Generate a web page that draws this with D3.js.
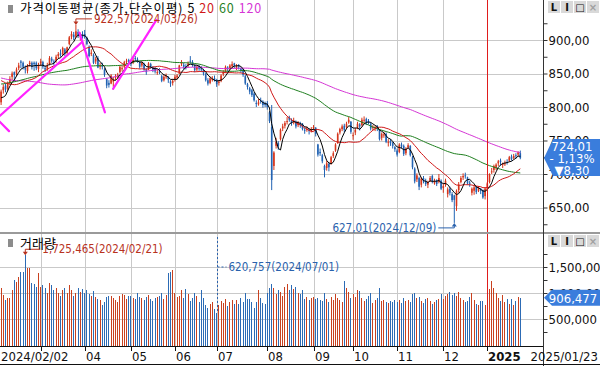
<!DOCTYPE html>
<html>
<head>
<meta charset="utf-8">
<script src="https://cdn.jsdelivr.net/npm/d3@7"></script>
<style>
html, body { margin: 0; padding: 0; background: #fff; overflow: hidden; }
svg { display: block; }
</style>
</head>
<body>
<div id="chart"></div>
<script>
// trading calendar (KRX)
const firstDay = "2024-02-02"
const lastDay = "2025-01-23"
const holidays = ["2024-02-09", "2024-02-12", "2024-03-01", "2024-04-10", "2024-05-01", "2024-05-06",
    "2024-05-15", "2024-06-06", "2024-08-15", "2024-09-16", "2024-09-17", "2024-09-18", "2024-10-01",
    "2024-10-03", "2024-10-09", "2024-12-25", "2024-12-31", "2025-01-01"]

// closes before the first visible day, only used to warm up the moving averages
const priorCloses = [915, 920, 918,
    910, 905, 898, 885, 880, 876, 870, 878, 885, 900, 905, 910, 915, 920, 925,
    930, 934, 925, 915, 905, 900, 895, 898, 900, 892, 880, 870, 862, 855, 850, 845, 842, 835, 826,
    815, 810, 800, 790, 800, 805, 810, 806, 800, 790, 785, 775, 770, 765, 760, 745, 750, 760, 770,
    785, 839, 815, 815, 808, 800, 795, 800, 810, 815, 818, 812, 808, 810, 805, 808, 812, 815, 820, 815, 812, 810,
    812, 815, 818, 822, 828, 833, 840, 848, 850, 855, 858, 862, 860, 862, 865, 860, 863, 866, 866,
    878, 868, 866, 862, 860, 858, 855, 860, 858, 850, 843, 840, 835, 830, 840, 848, 845, 835, 825, 815, 799, 807]

const opens = [
    807, 825, 832, 827, 836, 845, 852, 850, 858, 868, 866, 858, 854, 864, 866, 866, 866, 857, // 02
    865, 867, 858, 857, 864, 872, 868, 869, 876, 880, 879, 886, 881, 894, 905, 908, 905, 912, 905, 908, // 03
    909, 903, 890, 879, 878, 868, 873, 860, 863, 856, 842, 836, 835, 838, 844, 847, 852, 857, 860, 868, 870, // 04
    866, 866, 873, 871, 867, 862, 864, 855, 856, 864, 859, 857, 851, 853, 846, 840, 846, 845, 838, 836, // 05
    841, 844, 850, 864, 863, 861, 862, 869, 867, 862, 856, 861, 858, 855, 849, 840, 836, 842, 843, // 06
    840, 836, 839, 849, 853, 859, 858, 861, 865, 858, 862, 858, 856, 846, 834, 828, 825, 820, 806, 804, 810, 808, 805, // 07
    806, 792, 770, 712, 742, 746, 752, 768, 772, 778, 784, 780, 777, 778, 773, 775, 775, 766, 767, 766, 764, // 08
    768, 769, 744, 733, 728, 712, 709, 715, 716, 727, 735, 746, 762, 767, 772, 770, 777, 778, // 09
    757, 762, 769, 774, 773, 780, 782, 779, 775, 770, 769, 771, 766, 754, 758, 760, 747, 749, 746, 740, // 10
    735, 733, 744, 742, 731, 740, 742, 725, 708, 692, 694, 684, 694, 690, 684, 690, 697, 686, 691, 688, 690, // 11
    679, 684, 670, 678, 670, 668, 652, 676, 688, 695, 698, 695, 687, 672, 675, 681, 675, 678, 676, 667, // 12
    678, 688, 703, 706, 709, 716, 720, 714, 716, 718, 720, 726, 724, 728, 729, 731] // 01

const highs = [
    826, 834, 835, 838, 846, 853, 853, 859, 866, 870, 868, 862, 864, 869, 868, 868, 868, 866,
    872, 869, 862, 866, 876, 875, 871, 878, 882, 886, 890, 888, 890, 906, 913, 912, 922.57, 916, 911, 913,
    915, 905, 892, 886, 880, 875, 876, 866, 866, 858, 843, 840, 849, 845, 849, 851, 862, 862, 869, 872, 872,
    870, 873, 876, 874, 869, 868, 866, 858, 867, 866, 861, 860, 856, 858, 848, 848, 850, 846, 840, 842,
    848, 849, 863, 870, 866, 864, 868, 876, 870, 864, 862, 863, 861, 857, 851, 843, 845, 846, 847,
    842, 840, 849, 855, 862, 861, 864, 868, 866, 864, 864, 859, 857, 848, 836, 830, 827, 822, 810, 812, 814, 810, 808,
    809, 794, 803, 734, 754, 749, 768, 775, 779, 785, 787, 783, 784, 780, 779, 778, 776, 769, 771, 768, 770,
    773, 770, 745, 738, 730, 714, 720, 718, 727, 734, 746, 762, 769, 774, 775, 778, 785, 779,
    762, 769, 778, 776, 784, 786, 784, 782, 777, 773, 772, 773, 767, 762, 763, 762, 752, 752, 748, 742,
    738, 746, 747, 744, 740, 746, 743, 727, 710, 701, 696, 695, 697, 693, 690, 697, 699, 693, 692, 700, 692,
    686, 693, 680, 681, 673, 669, 677, 688, 697, 701, 702, 696, 690, 680, 683, 682, 682, 679, 677, 680,
    688, 701, 709, 714, 716, 721, 723, 717, 720, 722, 727, 729, 730, 731, 734, 735]

const lows = [
    803, 820, 822, 824, 833, 840, 838, 846, 855, 858, 856, 850, 850, 860, 856, 854, 855, 852,
    861, 857, 852, 854, 862, 866, 862, 866, 872, 875, 876, 876, 878, 892, 901, 900, 903, 903, 899, 902,
    902, 892, 874, 876, 864, 864, 858, 856, 856, 845, 828, 829, 834, 830, 840, 842, 850, 853, 858, 864, 865,
    861, 864, 869, 866, 857, 859, 854, 848, 855, 857, 852, 850, 848, 849, 837, 838, 842, 836, 830, 832,
    838, 841, 849, 861, 856, 856, 859, 865, 860, 852, 853, 854, 852, 847, 838, 832, 834, 838, 838,
    830, 832, 837, 846, 851, 853, 855, 858, 858, 855, 856, 851, 845, 833, 826, 819, 815, 808, 800, 802, 805, 799, 800,
    796, 776, 676, 706, 738, 736, 750, 764, 768, 774, 778, 772, 774, 768, 770, 769, 765, 760, 763, 759, 762,
    765, 756, 726, 727, 716, 695, 705, 704, 714, 724, 733, 745, 759, 764, 762, 767, 775, 760,
    751, 758, 767, 765, 771, 775, 773, 774, 765, 765, 764, 764, 750, 750, 754, 746, 741, 742, 738, 733,
    726, 731, 738, 727, 728, 737, 726, 707, 686, 688, 676, 680, 686, 682, 679, 688, 686, 684, 682, 686, 676,
    672, 681, 665, 668, 658, 627.01, 645, 672, 686, 691, 693, 684, 681, 668, 669, 670, 673, 670, 663, 662,
    674, 686, 700, 702, 706, 712, 713, 709, 712, 714, 718, 720, 722, 723, 726, 722]

const closes = [
    823, 830, 826, 835, 842, 850, 848, 856, 862, 866, 860, 856, 862, 866, 860, 864, 858, 862,
    868, 860, 856, 862, 873, 869, 866, 875, 879, 878, 888, 880, 889, 904, 909, 904, 913, 906, 907, 905,
    904, 894, 876, 881, 866, 872, 859, 862, 860, 848, 832, 833, 847, 841, 846, 848, 860, 858, 867, 869, 868,
    865, 870, 872, 868, 860, 866, 856, 852, 865, 860, 856, 853, 852, 852, 839, 845, 846, 841, 835, 839,
    845, 847, 862, 866, 860, 860, 865, 868, 864, 855, 860, 857, 856, 850, 840, 835, 843, 842, 840,
    834, 838, 847, 852, 860, 858, 862, 864, 862, 861, 860, 855, 848, 835, 830, 823, 818, 810, 805, 807, 808, 803, 803,
    800, 779, 691, 732, 748, 742, 766, 771, 776, 779, 781, 776, 780, 771, 776, 774, 767, 765, 767, 764, 767,
    770, 760, 729, 731, 719, 706, 716, 710, 725, 731, 744, 760, 767, 771, 766, 775, 781, 763,
    758, 766, 775, 771, 781, 781, 777, 778, 768, 770, 770, 767, 752, 760, 759, 748, 748, 746, 742, 737,
    729, 744, 741, 730, 738, 743, 728, 710, 689, 698, 681, 693, 689, 685, 688, 694, 689, 690, 685, 694, 678,
    682, 690, 677, 672, 661, 661.33, 675, 684, 694, 697, 697, 686, 686, 678, 680, 673, 680, 675, 665, 678.19,
    686, 700, 704, 712, 714, 719, 718, 715, 716, 717, 725, 722, 727, 727, 732.31, 724.01]

// volume, in thousand
const volumes = [
    1100, 960, 870, 900, 900, 1050, 1250, 1220, 1300, 1400, 1400, 1725.465, 1480, 1480, 1200, 1180, 1120, 1380,
    1120, 1150, 1100, 1000, 1200, 1150, 1050, 1100, 1000, 950, 1050, 1100, 1000, 1150, 1050, 950, 1000, 1100, 1020, 1080,
    1000, 1060, 980, 950, 1040, 930, 880, 860, 760, 830, 920, 950, 940, 900, 860, 830, 950, 980, 960, 890, 940,
    950, 900, 880, 1000, 920, 900, 870, 930, 960, 880, 850, 900, 920, 950, 1000, 880, 960, 1380, 1400, 1440,
    1000, 920, 940, 1050, 900, 1080, 980, 850, 900, 1000, 950, 820, 1050, 900, 760, 720, 780, 820, 700,
    620.757, 760, 850, 800, 880, 750, 820, 860, 780, 860, 790, 900, 820, 1000, 880, 880, 830, 720, 820, 1050, 900, 800, 780,
    1000, 1100, 1180, 1100, 980, 1050, 1020, 950, 1120, 1180, 1050, 1150, 1080, 1120, 1000, 990, 1050, 880, 920, 870, 900,
    920, 880, 900, 860, 850, 1000, 880, 820, 930, 870, 990, 900, 870, 820, 1230, 1100, 1020, 900,
    980, 920, 1060, 1040, 900, 850, 880, 950, 1000, 800, 870, 900, 1100, 840, 870, 820, 800, 850, 820, 860,
    830, 860, 800, 900, 850, 870, 820, 980, 1000, 900, 920, 840, 800, 880, 910, 850, 780, 820, 860, 880, 980,
    880, 940, 980, 1010, 960, 1000, 940, 1010, 900, 870, 830, 840, 920, 1000, 860, 780, 760, 840, 850, 760,
    780, 1070, 1230, 1100, 1000, 900, 850, 960, 820, 880, 780, 880, 760, 850, 920, 906.477]

const maPeriods = [5, 20, 60, 120]
const maColors = ["#000000", "#d01818", "#1f7f1f", "#d535d5"]
const xTickLabels = ["", "04", "05", "06", "07", "08", "09", "10", "11", "12", "2025"]
const priceTicks = [650, 700, 750, 800, 850, 900]
const volumeTicks = [500000, 1000000, 1500000]

// user drawn trend lines, [index, price] pairs
const trendLines = [
    [[-1.8, 782], [3.6, 764]],
    [[-0.5, 787], [36.8, 897]],
    [[35.6, 911], [47.2, 792]],
    [[50.9, 827], [70.6, 930]]
]

const W = 600, H = 366
const plotRight = 543
const priceBottom = 232, volTop = 235, volBottom = 346
const NARROW = "'Liberation Sans Narrow', 'DejaVu Sans Condensed', 'Arial Narrow', sans-serif"
const KR = "'Noto Sans CJK KR', 'Noto Sans', sans-serif"
const UP = "#d6361c", DOWN = "#2263b3"

const parse = d3.utcParse("%Y-%m-%d"), fmtDay = d3.utcFormat("%Y-%m-%d")
const days = d3.utcDay.range(parse(firstDay), d3.utcDay.offset(parse(lastDay), 1))
    .filter(d => d.getUTCDay() % 6 !== 0 && !holidays.includes(fmtDay(d)))
const n = days.length
if ([opens, highs, lows, closes, volumes].some(a => a.length !== n)) {
    throw new Error("length mismatch " + n + " " + [opens, highs, lows, closes, volumes].map(a => a.length))
}

const all = priorCloses.concat(closes)
const movingAvg = p => closes.map((c, i) => {
    const j = i + priorCloses.length
    return j - p + 1 < 0 ? null : d3.mean(all.slice(j - p + 1, j + 1))
})

const kr = d3.formatLocale({decimal: ",", thousands: ".", grouping: [3], currency: ["", ""]})
const fmtPrice = kr.format(".2f")
const fmtVol = d3.format(",")
const fmtDate = d3.utcFormat("%Y/%m/%d")

const x = d3.scaleBand().domain(d3.range(n)).range([0, n * 2.2])
const cx = i => x(i) + x.bandwidth() / 2
const xi = d3.scaleLinear().domain([0, n - 1]).range([cx(0), cx(n - 1)])
const y = d3.scaleLinear().domain([650, 900]).range([207.5, 40])
const yv = d3.scaleLinear().domain([0, 1500000]).range([345, 267])

const svg = d3.select("#chart").append("svg")
    .attr("width", W).attr("height", H)
    .attr("viewBox", [0, 0, W, H])
    .style("font-family", NARROW)

const defs = svg.append("defs")
defs.append("clipPath").attr("id", "clipPrice")
    .append("rect").attr("x", 0).attr("y", 0).attr("width", plotRight).attr("height", priceBottom)
defs.append("clipPath").attr("id", "clipVol")
    .append("rect").attr("x", 0).attr("y", volTop).attr("width", plotRight).attr("height", volBottom - volTop)

const monthStarts = d3.range(1, n).filter(i => days[i].getUTCMonth() !== days[i - 1].getUTCMonth())
const yearStart = monthStarts.find(i => days[i].getUTCFullYear() !== days[0].getUTCFullYear())

// grid
const grid = svg.append("g").attr("stroke", "#c9c9c9").attr("shape-rendering", "crispEdges")
grid.selectAll(".hp").data(priceTicks).join("line")
    .attr("x1", 0).attr("x2", plotRight).attr("y1", d => Math.round(y(d)) + 0.5).attr("y2", d => Math.round(y(d)) + 0.5)
grid.selectAll(".hv").data(volumeTicks).join("line")
    .attr("x1", 0).attr("x2", plotRight).attr("y1", d => Math.round(yv(d)) + 0.5).attr("y2", d => Math.round(yv(d)) + 0.5)
grid.selectAll(".vp").data(monthStarts.filter(i => i !== yearStart)).join("line")
    .attr("x1", i => Math.round(cx(i)) + 0.5).attr("x2", i => Math.round(cx(i)) + 0.5)
    .attr("y1", 0).attr("y2", volBottom)

// candles
const upDown = i => closes[i] >= opens[i] ? UP : DOWN
const candles = svg.append("g").attr("clip-path", "url(#clipPrice)")
    .selectAll("g").data(d3.range(n)).join("g")
candles.append("line")
    .attr("x1", cx).attr("x2", cx)
    .attr("y1", i => y(highs[i])).attr("y2", i => y(lows[i]))
    .attr("stroke", upDown).attr("stroke-width", 1)
candles.append("rect")
    .attr("x", i => cx(i) - 0.8).attr("width", 1.6)
    .attr("y", i => y(Math.max(opens[i], closes[i])))
    .attr("height", i => Math.max(1, Math.abs(y(opens[i]) - y(closes[i]))))
    .attr("fill", upDown)

// moving averages
const maLine = d3.line().defined(d => d[1] != null).x(d => cx(d[0])).y(d => y(d[1]))
svg.append("g").attr("clip-path", "url(#clipPrice)").attr("fill", "none").attr("stroke-width", 1)
    .selectAll("path").data(maPeriods.map((p, k) => ({p, k, v: movingAvg(p)})).reverse()).join("path")
    .attr("stroke", d => maColors[d.k])
    .attr("d", d => maLine(d.v.map((v, i) => [i, v])))

// trend lines
svg.append("g").attr("clip-path", "url(#clipPrice)")
    .selectAll("line").data(trendLines).join("line")
    .attr("x1", d => xi(d[0][0])).attr("y1", d => y(d[0][1]))
    .attr("x2", d => xi(d[1][0])).attr("y2", d => y(d[1][1]))
    .attr("stroke", "#ff22ff").attr("stroke-width", 2.2).attr("stroke-linecap", "round")

// volume bars
svg.append("g").attr("clip-path", "url(#clipVol)").attr("shape-rendering", "crispEdges")
    .selectAll("rect").data(d3.range(n)).join("rect")
    .attr("x", i => Math.floor(cx(i))).attr("width", 1)
    .attr("y", i => yv(volumes[i] * 1000)).attr("height", i => yv(0) - yv(volumes[i] * 1000) + 1)
    .attr("fill", i => closes[i] >= opens[i] ? "#c9411f" : "#2c6bb5")

// year marker
svg.append("line")
    .attr("x1", Math.round(cx(yearStart)) + 0.5).attr("x2", Math.round(cx(yearStart)) + 0.5)
    .attr("y1", 0).attr("y2", volBottom)
    .attr("stroke", "#e01c1c").attr("shape-rendering", "crispEdges")

// pane separator
svg.append("rect").attr("x", 0).attr("y", priceBottom).attr("width", W).attr("height", 2).attr("fill", "#9a9a9a")

// high / low annotations
const ANN = 11.5
const iMax = d3.maxIndex(highs), iMin = d3.minIndex(lows)
const annMax = svg.append("g").attr("stroke", "#b8321e").attr("fill", "#b8321e")
const yMax = y(highs[iMax])
annMax.append("path").attr("fill", "none")
    .attr("d", `M${cx(iMax)},${yMax - 3}V${yMax - 6}H${cx(iMax) + 16}`)
annMax.append("path").attr("stroke", "none")
    .attr("d", `M${cx(iMax) - 2.5},${yMax - 3.5}L${cx(iMax) + 2.5},${yMax - 3.5}L${cx(iMax)},${yMax}Z`)
annMax.append("text").attr("stroke", "none")
    .attr("x", cx(iMax) + 18).attr("y", yMax - 6).attr("dy", "0.36em")
    .attr("font-size", ANN)
    .text(`${fmtPrice(highs[iMax])}(${fmtDate(days[iMax])})`)

const annMin = svg.append("g").attr("stroke", "#2a62ad").attr("fill", "#2a62ad")
const yMin = y(lows[iMin])
annMin.append("path").attr("fill", "none")
    .attr("d", `M${cx(iMin)},${yMin + 3}V${yMin + 5}H${cx(iMin) - 16}`)
annMin.append("path").attr("stroke", "none")
    .attr("d", `M${cx(iMin) - 2.5},${yMin + 3.5}L${cx(iMin) + 2.5},${yMin + 3.5}L${cx(iMin)},${yMin}Z`)
annMin.append("text").attr("stroke", "none")
    .attr("x", cx(iMin) - 18).attr("y", yMin + 5).attr("dy", "0.36em")
    .attr("text-anchor", "end").attr("font-size", ANN)
    .text(`${fmtPrice(lows[iMin])}(${fmtDate(days[iMin])})`)

const vMax = d3.maxIndex(volumes), vMin = d3.minIndex(volumes)
const annVMax = svg.append("g").attr("stroke", "#b8321e").attr("fill", "#b8321e")
const yVMax = yv(volumes[vMax] * 1000)
annVMax.append("path").attr("fill", "none")
    .attr("d", `M${cx(vMax)},${yVMax - 3}V${yVMax - 6}H${cx(vMax) + 15}`)
annVMax.append("path").attr("stroke", "none")
    .attr("d", `M${cx(vMax) - 2.5},${yVMax - 3.5}L${cx(vMax) + 2.5},${yVMax - 3.5}L${cx(vMax)},${yVMax}Z`)
annVMax.append("text").attr("stroke", "none")
    .attr("x", cx(vMax) + 17).attr("y", yVMax - 6).attr("dy", "0.36em").attr("font-size", ANN)
    .text(`${fmtVol(Math.round(volumes[vMax] * 1000))}(${fmtDate(days[vMax])})`)

const annVMin = svg.append("g").attr("stroke", "#2a62ad").attr("fill", "#2a62ad")
const xVMin = Math.round(cx(vMin)) + 0.5
annVMin.append("line").attr("x1", xVMin).attr("x2", xVMin)
    .attr("y1", volTop + 2).attr("y2", yv(volumes[vMin] * 1000))
    .attr("stroke-dasharray", "2,2")
annVMin.append("line").attr("x1", xVMin).attr("x2", xVMin + 9)
    .attr("y1", yv(1500000)).attr("y2", yv(1500000)).attr("stroke-dasharray", "2,2")
annVMin.append("text").attr("stroke", "none")
    .attr("x", xVMin + 11).attr("y", yv(1500000)).attr("dy", "0.36em").attr("font-size", ANN)
    .text(`${fmtVol(Math.round(volumes[vMin] * 1000))}(${fmtDate(days[vMin])})`)

// legends
const leg = svg.append("text").attr("x", 20).attr("y", 13).attr("font-family", KR).attr("font-size", 12.5)
    .attr("letter-spacing", 0.9)
leg.append("tspan").attr("fill", "#000").text("가격이동평균(종가,단순이평)")
maPeriods.forEach((p, k) => leg.append("tspan").attr("fill", maColors[k]).attr("dx", 4).text(p))
svg.append("rect").attr("x", 8).attr("y", 5).attr("width", 5).attr("height", 8).attr("fill", "#8c8c8c")

svg.append("text").attr("x", 20).attr("y", 248).attr("font-family", KR).attr("font-size", 13)
    .text("거래량")
svg.append("rect").attr("x", 8).attr("y", 239).attr("width", 5).attr("height", 8).attr("fill", "#8c8c8c")

// right axes
const axisG = svg.append("g").attr("transform", `translate(${plotRight + 0.5},0)`)
axisG.append("line").attr("y1", 0).attr("y2", H).attr("stroke", "#333")
axisG.append("g")
    .call(d3.axisRight(y).tickValues(priceTicks).tickSize(4).tickPadding(1).tickFormat(fmtPrice))
axisG.append("g")
    .call(d3.axisRight(y).tickValues([625, 675, 725, 775, 825, 875, 925]).tickSize(4).tickFormat(""))
axisG.append("g")
    .call(d3.axisRight(yv).tickValues(volumeTicks).tickSize(4).tickPadding(1).tickFormat(fmtVol))
axisG.append("g")
    .call(d3.axisRight(yv).tickValues([250000, 750000, 1250000, 1750000]).tickSize(4).tickFormat(""))
axisG.selectAll(".domain").remove()
axisG.selectAll(".tick line").attr("stroke", "#333")
axisG.selectAll(".tick text").attr("font-family", NARROW).attr("font-size", 13).attr("fill", "#111")

// last price tag
const last = n - 1
const change = closes[last] - closes[last - 1]
const yLast = y(closes[last])
const tag = svg.append("g")
tag.append("path").attr("fill", "#3a7ddc")
    .attr("d", `M${plotRight + 1},${yLast}L${plotRight + 10},${yLast - 19}H${W}V${yLast + 18}H${plotRight + 10}Z`)
tag.selectAll("text").data([
    fmtPrice(closes[last]),
    (change < 0 ? "- " : "+ ") + kr.format(".2f")(Math.abs(change / closes[last - 1] * 100)) + "%",
    (change < 0 ? "▼" : "▲") + fmtPrice(Math.abs(change))
]).join("text")
    .attr("x", 572).attr("y", (d, k) => yLast - 12 + k * 12).attr("dy", "0.36em")
    .attr("text-anchor", "middle").attr("fill", "#fff").attr("font-size", 13)
    .text(d => d)

const yVLast = yv(volumes[last] * 1000)
const vtag = svg.append("g")
vtag.append("path").attr("fill", "#3a7ddc")
    .attr("d", `M${plotRight + 1},${yVLast}L${plotRight + 9},${yVLast - 8}H${W}V${yVLast + 8}H${plotRight + 9}Z`)
vtag.append("text").attr("x", 573).attr("y", yVLast).attr("dy", "0.36em")
    .attr("text-anchor", "middle").attr("fill", "#fff").attr("font-size", 13)
    .text(fmtVol(Math.round(volumes[last] * 1000)))

// pane buttons
const buttons = ["L", "I", "□", "×"]
;[1, volTop].forEach(top => {
    const b = svg.append("g").selectAll("g").data(buttons).join("g")
        .attr("transform", (d, k) => `translate(${548 + k * 13},${top})`)
    b.append("rect").attr("width", 12).attr("height", 12).attr("fill", "#d9d9d9")
    b.append("text").attr("x", 6).attr("y", 6).attr("dy", "0.36em").attr("text-anchor", "middle")
        .attr("font-family", "'DejaVu Sans', sans-serif").attr("font-weight", "bold").attr("font-size", 10)
        .attr("fill", (d, k) => k === 3 ? "#a0a0a0" : "#111").text(d => d)
})

// x axis
svg.append("line").attr("x1", 0).attr("x2", plotRight).attr("y1", volBottom + 0.5).attr("y2", volBottom + 0.5)
    .attr("stroke", "#111")
svg.append("line").attr("x1", 0).attr("x2", W).attr("y1", H - 1.5).attr("y2", H - 1.5).attr("stroke", "#111")
const xAxis = svg.append("g").attr("font-size", 13).attr("fill", "#111")
xAxis.selectAll("line").data(monthStarts).join("line")
    .attr("x1", i => Math.round(cx(i)) + 0.5).attr("x2", i => Math.round(cx(i)) + 0.5)
    .attr("y1", volBottom).attr("y2", volBottom + 5).attr("stroke", "#111")
xAxis.selectAll("text").data(monthStarts).join("text")
    .attr("x", i => Math.round(cx(i)) + 1).attr("y", 361)
    .attr("font-weight", (i, k) => i === yearStart ? "bold" : null)
    .text((i, k) => xTickLabels[k])
xAxis.append("text").attr("x", 1).attr("y", 361).text(fmtDate(days[0]))
xAxis.append("text").attr("x", W - 2).attr("y", 361).attr("text-anchor", "end").text(fmtDate(days[last]))
</script>
</body>
</html>
